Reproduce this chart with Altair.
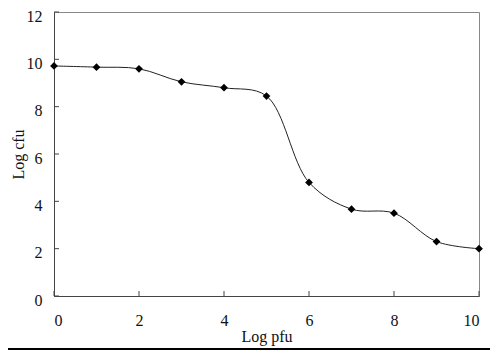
import altair as alt
import pandas as pd

log_pfu = [0, 1, 2, 3, 4, 5, 6, 7, 8, 9, 10]
log_cfu = [9.72, 9.67, 9.6, 9.05, 8.8, 8.45, 4.8, 3.67, 3.5, 2.3, 2.0]
x_ticks = [0, 2, 4, 6, 8, 10]
y_ticks = [0, 2, 4, 6, 8, 10, 12]

df = pd.DataFrame({"x": log_pfu, "y": log_cfu})
W, H = 425, 284
FONT = "Liberation Serif"
FS = 16

xs = alt.Scale(domain=[0, 10], nice=False)
ys = alt.Scale(domain=[0, 12], nice=False)

base = alt.Chart(df)

line = base.mark_line(interpolate="catmull-rom", color="#222", strokeWidth=1).encode(
    x=alt.X("x:Q", scale=xs, title="Log pfu",
            axis=alt.Axis(values=x_ticks, ticks=False, grid=False, labelPadding=16,
                          domainColor="#444", labelFont=FONT, labelFontSize=FS,
                          titleFont=FONT, titleFontSize=FS, titleFontWeight="normal",
                          titleColor="#111", labelColor="#111", titlePadding=0)),
    y=alt.Y("y:Q", scale=ys, title="Log cfu",
            axis=alt.Axis(values=y_ticks, ticks=False, grid=False, labelPadding=12,
                          labelOffset=4,
                          domainColor="#444", labelFont=FONT, labelFontSize=FS,
                          titleFont=FONT, titleFontSize=FS, titleFontWeight="normal",
                          titleColor="#111", labelColor="#111", titlePadding=0)),
)

pts = base.mark_point(shape="diamond", filled=True, color="black", size=60, opacity=1).encode(
    x=alt.X("x:Q", scale=xs), y=alt.Y("y:Q", scale=ys)
)

ytick = alt.Chart(pd.DataFrame({"t": y_ticks})).mark_rule(color="#444").encode(
    y=alt.Y("t:Q", scale=ys), x=alt.value(0), x2=alt.value(5)
)
xtick = alt.Chart(pd.DataFrame({"t": x_ticks})).mark_rule(color="#444").encode(
    x=alt.X("t:Q", scale=xs), y=alt.value(H), y2=alt.value(H - 5)
)
bottom = alt.Chart(pd.DataFrame({"a": [0]})).mark_rule(color="black", strokeWidth=2).encode(
    x=alt.value(-46), x2=alt.value(436), y=alt.value(337)
)

chart = alt.layer(line, pts, ytick, xtick, bottom).properties(
    width=W, height=H,
    autosize=alt.AutoSizeParams(type="none"),
    padding={"left": 46, "top": 4, "right": 11, "bottom": 54},
).configure_view(stroke="#888", strokeWidth=1)

chart.save("out.html", embed_options={"renderer": "svg", "actions": False})
